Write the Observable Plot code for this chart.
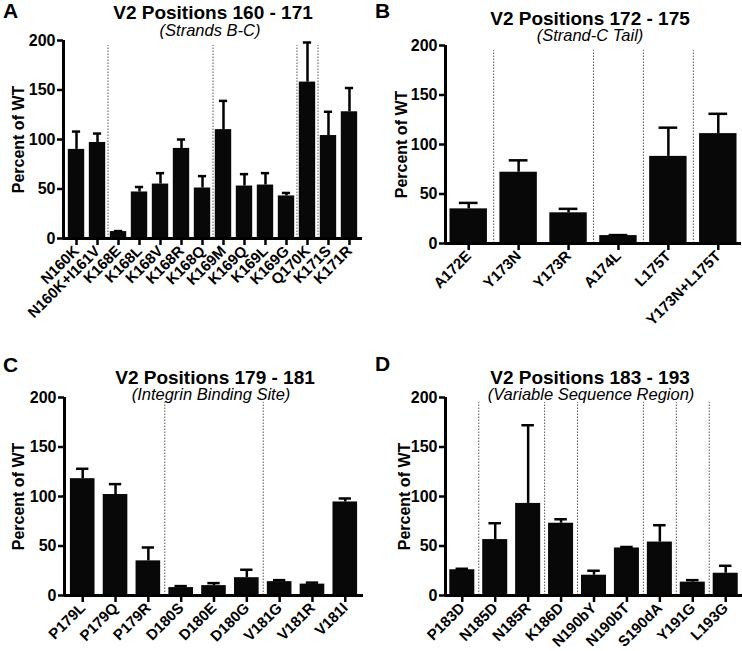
<!DOCTYPE html>
<html>
<head>
<meta charset="utf-8">
<script src="https://cdn.jsdelivr.net/npm/d3@7"></script>
<script src="https://cdn.jsdelivr.net/npm/@observablehq/plot@0.6"></script>
<style>
  html, body { margin: 0; padding: 0; background: #fff; }
  body { width: 742px; height: 651px; position: relative; overflow: hidden;
         font-family: "Liberation Sans", Arial, Helvetica, sans-serif; color: #000; }
  .panel { position: absolute; }
  .t { position: absolute; white-space: nowrap; line-height: 0.8; }
  .letter { font-weight: bold; font-size: 21px; }
  .title { font-weight: bold; font-size: 19px; transform: translateX(-50%); }
  .sub { font-style: italic; font-size: 16.5px; transform: translateX(-50%); }
</style>
</head>
<body>
<div id="root"></div>
<script>
// ---------------- data ----------------
const catsA = ["N160K", "N160K+I161V", "K168E", "K168L", "K168V", "K168R", "K168Q", "K169M", "K169Q", "K169L", "K169G", "Q170K", "K171S", "K171R"];
const valsA = [90, 97, 7, 47, 55, 91, 51, 110, 53, 54, 43, 158, 104, 128];
const errsA = [108, 106, 7.5, 52, 66, 100, 63, 139, 65, 66, 46, 198, 128, 152];
const groupStartsA = ["K168E", "K169M", "Q170K", "K171S"];

const catsB = ["A172E", "Y173N", "Y173R", "A174L", "L175T", "Y173N+L175T"];
const valsB = [35, 72, 31, 8, 88, 111];
const errsB = [41, 84, 35, 8.5, 117, 131];
const groupStartsB = ["Y173N", "A174L", "L175T", "Y173N+L175T"];

const catsC = ["P179L", "P179Q", "P179R", "D180S", "D180E", "D180G", "V181G", "V181R", "V181I"];
const valsC = [118, 102, 35, 8, 10, 18, 14, 11.5, 94.5];
const errsC = [128, 112.5, 48.5, 9.5, 12.5, 26, 15.5, 13, 98];
const groupStartsC = ["D180S", "V181G"];

const catsD = ["P183D", "N185D", "N185R", "K186D", "N190bY", "N190bT", "S190dA", "Y191G", "L193G"];
const valsD = [26, 56.5, 93, 73, 20.5, 48, 54, 13.5, 22.5];
const errsD = [27, 73, 172, 77, 25, 49, 71, 15.5, 30];
const groupStartsD = ["N185D", "K186D", "N190bY", "S190dA", "Y191G", "L193G"];

const yTicks = [0, 50, 100, 150, 200];
const yLabel = "Percent of WT";

// baseline helper for line-height 0.8 boxes
const topFor = (baseline, fs) => baseline - 0.7465 * fs;

const panels = [
  {letter: "A", title: "V2 Positions 160 - 171", sub: "(Strands B-C)", cats: catsA, vals: valsA, errs: errsA, starts: groupStartsA,
   left: 0, top: 0, width: 371, height: 325, mL: 63, mR: 9, mT: 40, mB: 87, pi: 0.22, po: 0.23, labelOffset: 51,
   lx: 3, lb: 19, tx: 213, tb: 19.5, sx: 210, sb: 36},
  {letter: "B", title: "V2 Positions 172 - 175", sub: "(Strand-C Tail)", cats: catsB, vals: valsB, errs: errsB, starts: groupStartsB,
   left: 370, top: 0, width: 372, height: 325, mL: 75, mR: 1, mT: 45, mB: 82, pi: 0.25, po: 0.09, labelOffset: 50,
   lx: 375, lb: 19, tx: 590, tb: 25, sx: 590, sb: 41},
  {letter: "C", title: "V2 Positions 179 - 181", sub: "(Integrin Binding Site)", cats: catsC, vals: valsC, errs: errsC, starts: groupStartsC,
   left: 0, top: 325, width: 371, height: 326, mL: 64, mR: 8, mT: 72, mB: 56, pi: 0.25, po: 0.18, labelOffset: 52,
   lx: 3, lb: 373, tx: 215, tb: 384.5, sx: 211, sb: 400},
  {letter: "D", title: "V2 Positions 183 - 193", sub: "(Variable Sequence Region)", cats: catsD, vals: valsD, errs: errsD, starts: groupStartsD,
   left: 370, top: 325, width: 372, height: 326, mL: 75, mR: 0, mT: 72, mB: 56, pi: 0.24, po: 0.13, labelOffset: 47,
   lx: 375, lb: 372, tx: 590, tb: 384, sx: 591, sb: 400}
];

const root = document.getElementById("root");

function buildPanel(p) {
  const data = p.cats.map((c, i) => ({cat: c, v: p.vals[i], e: p.errs[i]}));
  const base = {
    width: p.width, height: p.height,
    marginLeft: p.mL, marginRight: p.mR, marginTop: p.mT, marginBottom: p.mB,
    x: {domain: p.cats, paddingInner: p.pi, paddingOuter: p.po, round: false},
    y: {domain: [0, 200]},
    style: {background: "transparent", overflow: "visible", color: "#000",
            fontFamily: "'Liberation Sans', Arial, Helvetica, sans-serif", fontWeight: "bold", fontSize: "15px"}
  };
  // probe pass to read the band scale geometry
  const probe = Plot.plot({...base, marks: [Plot.barY(data, {x: "cat", y: "v"})]});
  const sx = probe.scale("x");
  const bw = sx.bandwidth;
  const step = sx.step != null ? sx.step : bw / (1 - p.pi);
  const firstCenter = sx.apply(p.cats[0]) + bw / 2;
  const axisDx = sx.range[0] - firstCenter;

  const plot = Plot.plot({
    ...base,
    marks: [
      Plot.ruleX(p.starts, {x: d => d, y1: 0, y2: 195, dx: -step / 2, stroke: "#555", strokeWidth: 1, strokeDasharray: "1.5,1.5"}),
      Plot.barY(data, {x: "cat", y: "v", fill: "#080808"}),
      Plot.ruleX(data, {x: "cat", y1: "v", y2: "e", stroke: "#000", strokeWidth: 2.5}),
      Plot.tickY(data, {x: "cat", y: "e", stroke: "#000", strokeWidth: 2.5, insetLeft: bw * 0.25, insetRight: bw * 0.25}),
      Plot.axisY({ticks: yTicks, tickSize: 6, tickPadding: 2, strokeWidth: 2.5, fontSize: 16, fontWeight: "bold",
                  label: yLabel, labelAnchor: "center", labelOffset: p.labelOffset, labelArrow: "none"}),
      Plot.axisX({tickSize: 7, tickPadding: 3, tickRotate: -45, strokeWidth: 2.5, fontSize: 15, fontWeight: "bold", label: null}),
      Plot.ruleY([0], {stroke: "#000", strokeWidth: 3}),
      Plot.ruleX([p.cats[0]], {x: d => d, y1: 0, y2: 200, dx: axisDx, stroke: "#000", strokeWidth: 3})
    ]
  });

  const div = document.createElement("div");
  div.className = "panel";
  div.style.left = p.left + "px";
  div.style.top = p.top + "px";
  div.appendChild(plot);
  root.appendChild(div);

  const add = (cls, text, x, baseline, fs) => {
    const el = document.createElement("div");
    el.className = "t " + cls;
    el.textContent = text;
    el.style.left = x + "px";
    el.style.top = topFor(baseline, fs) + "px";
    root.appendChild(el);
  };
  add("letter", p.letter, p.lx, p.lb, 21);
  add("title", p.title, p.tx, p.tb, 19);
  add("sub", p.sub, p.sx, p.sb, 16.5);
}

panels.forEach(buildPanel);
</script>
</body>
</html>
